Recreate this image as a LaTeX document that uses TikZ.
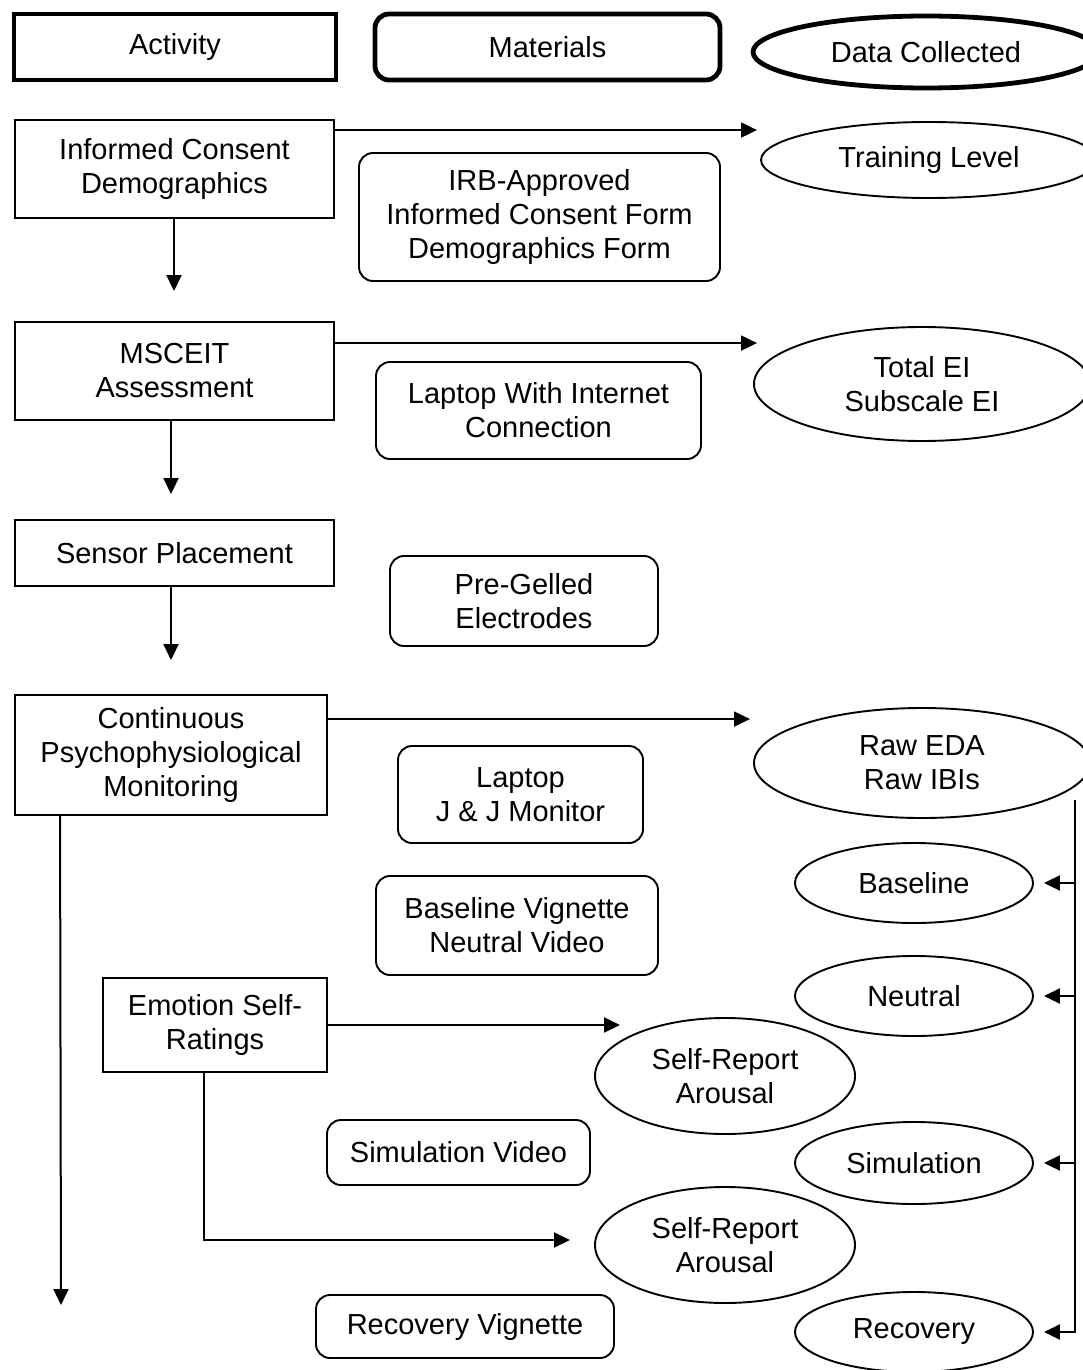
\documentclass[tikz,border=0pt]{standalone}
\usepackage{fontspec}
\setmainfont{Liberation Sans}
\usetikzlibrary{shapes.geometric,arrows.meta}
\begin{document}
\begin{tikzpicture}[x=1pt,y=-1pt,
  every node/.style={font=\fontsize{29}{34}\selectfont, align=center, inner sep=2pt},
  actbox/.style={draw, line width=1.9pt, rectangle, minimum width=#1},
  matbox/.style={draw, line width=1.9pt, rectangle, rounded corners=14pt, minimum width=#1},
  databox/.style={draw, line width=1.9pt, ellipse, minimum width=#1},
  legend/.style={line width=4.8pt},
  arr/.style={line width=2pt, -{Triangle[length=16pt,width=15pt]}},
  busline/.style={line width=2pt}
]
\useasboundingbox (0,0) rectangle (1083,1370);
\clip (0,0) rectangle (1083,1370);

% legend
\node[actbox=322pt, legend, minimum height=66pt] (legAct) at (175,47) {Activity};
\node[matbox=345pt, legend, minimum height=66pt] (legMat) at (547.5,47) {Materials};
\node[databox=346pt, legend, minimum height=72pt] (legData) at (926,52) {Data Collected};

% activities
\node[actbox=319pt, minimum height=98pt] (ic) at (174.5,169) {Informed Consent\\Demographics};
\node[actbox=319pt, minimum height=98pt] (ms) at (174.5,371) {MSCEIT\\Assessment};
\node[actbox=319pt, minimum height=66pt] (sp) at (174.5,553) {Sensor Placement};
\node[actbox=312pt, minimum height=120pt] (cm) at (171,755) {Continuous\\Psychophysiological\\Monitoring};
\node[actbox=224pt, minimum height=94pt] (es) at (215,1025) {Emotion Self-\\Ratings};

% materials
\node[matbox=361pt, minimum height=128pt] (irb) at (539.5,217) {IRB-Approved\\Informed Consent Form\\Demographics Form};
\node[matbox=325pt, minimum height=97pt] (lap) at (538.5,410.5) {Laptop With Internet\\Connection};
\node[matbox=268pt, minimum height=90pt] (pg) at (524,601) {Pre-Gelled\\Electrodes};
\node[matbox=245pt, minimum height=97pt] (lj) at (520.5,794.5) {Laptop\\J \& J Monitor};
\node[matbox=282pt, minimum height=99pt] (bv) at (517,925.5) {Baseline Vignette\\Neutral Video};
\node[matbox=263pt, minimum height=65pt] (sv) at (458.5,1152.5) {Simulation Video};
\node[matbox=298pt, minimum height=63pt] (rv) at (465,1326.5) {Recovery Vignette};

% data collected
\node[databox=336pt, minimum height=76pt] (tl) at (929,160) {Training Level};
\node[databox=336pt, minimum height=114pt] (te) at (922,384) {Total EI\\Subscale EI};
\node[databox=336pt, minimum height=110pt] (raw) at (922,763) {Raw EDA\\Raw IBIs};
\node[databox=238pt, minimum height=80pt] (bl) at (914,883) {Baseline};
\node[databox=238pt, minimum height=80pt] (nt) at (914,996) {Neutral};
\node[databox=260pt, minimum height=116pt] (sr1) at (725,1076) {Self-Report\\Arousal};
\node[databox=238pt, minimum height=82pt] (sim) at (914,1163) {Simulation};
\node[databox=260pt, minimum height=116pt] (sr2) at (725,1245) {Self-Report\\Arousal};
\node[databox=238pt, minimum height=80pt] (rec) at (914,1332) {Recovery};

% flow between activities
\coordinate (icout) at ([xshift=-0.5pt]ic.south);
\coordinate (mstop) at ([yshift=30pt]ms.north);
\draw[arr] (icout) -- (icout |- mstop);
\coordinate (msout) at ([xshift=-3.5pt]ms.south);
\coordinate (sptop) at ([yshift=25pt]sp.north);
\draw[arr] (msout) -- (msout |- sptop);
\coordinate (spout) at ([xshift=-3.5pt]sp.south);
\coordinate (cmtop) at ([yshift=34pt]cm.north);
\draw[arr] (spout) -- (spout |- cmtop);
\coordinate (cmdown) at ([xshift=46pt]cm.south west);
\coordinate (cmend) at (61,1305);
\draw[arr] (cmdown) -- (cmend);

% activities to data
\coordinate (p1) at ([yshift=-11pt]ic.north east);
\draw[arr] (p1) -- (757,0 |- p1);
\coordinate (p2) at ([yshift=-22pt]ms.north east);
\draw[arr] (p2) -- (757,0 |- p2);
\coordinate (p3) at ([yshift=-25pt]cm.north east);
\draw[arr] (p3) -- (750,0 |- p3);
\draw[arr] (es.east) -- (620,0 |- es.east);
\coordinate (esdown) at ([xshift=-11pt]es.south);
\coordinate (sr2in) at (570,1240);
\draw[arr] (esdown) |- (sr2in);

% bus from raw data
\coordinate (bustop) at (1075,800);
\draw[busline] (bustop) -- (1075,1332);
\foreach \n in {bl,nt,sim} {
  \draw[arr] (bustop |- \n.east) -- ([xshift=10pt]\n.east);
}
\draw[arr] (bustop) |- ([xshift=10pt]rec.east);
\end{tikzpicture}
\end{document}
